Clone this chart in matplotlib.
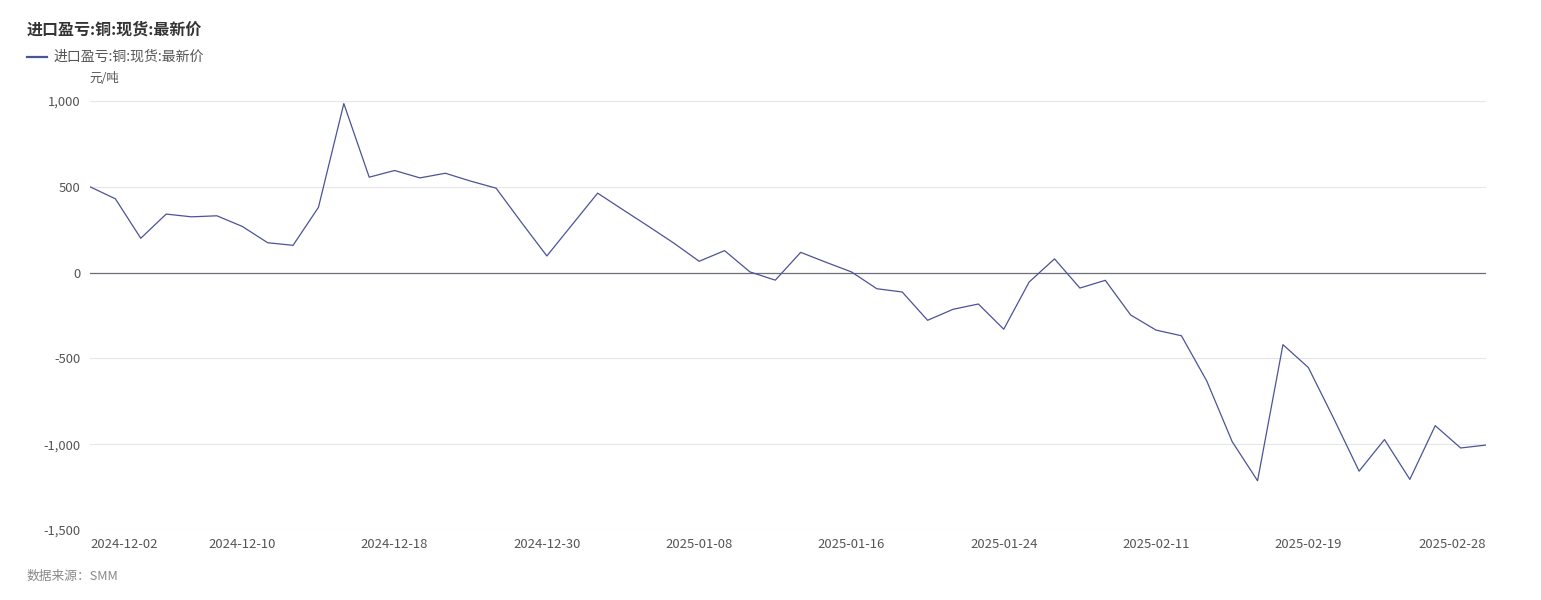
import matplotlib
matplotlib.use("Agg")
import matplotlib.pyplot as plt

plt.rcParams['font.family'] = ['Noto Sans CJK SC', 'DejaVu Sans']
plt.rcParams['axes.unicode_minus'] = False

# ---- data ----
dates = [
    "2024-12-02", "2024-12-03", "2024-12-04", "2024-12-05", "2024-12-06",
    "2024-12-09", "2024-12-10", "2024-12-11", "2024-12-12", "2024-12-13",
    "2024-12-16", "2024-12-17", "2024-12-18", "2024-12-19", "2024-12-20",
    "2024-12-23", "2024-12-24", "2024-12-26", "2024-12-30", "2024-12-31",
    "2025-01-02", "2025-01-03", "2025-01-06", "2025-01-07", "2025-01-08",
    "2025-01-09", "2025-01-10", "2025-01-13", "2025-01-14", "2025-01-15",
    "2025-01-16", "2025-01-17", "2025-01-20", "2025-01-21", "2025-01-22",
    "2025-01-23", "2025-01-24", "2025-01-27", "2025-02-05", "2025-02-06",
    "2025-02-07", "2025-02-10", "2025-02-11", "2025-02-12", "2025-02-13",
    "2025-02-14", "2025-02-17", "2025-02-18", "2025-02-19", "2025-02-20",
    "2025-02-21", "2025-02-24", "2025-02-25", "2025-02-26", "2025-02-27",
    "2025-02-28",
]
values = [
    500, 430, 200, 341, 325, 331, 269, 174, 159, 380,
    985, 556, 595, 552, 579, 533, 492, 292, 97, 280,
    463, 366, 270, 172, 66, 128, 4, -44, 118, 60,
    4, -94, -113, -278, -214, -183, -330, -55, 80, -90,
    -45, -247, -335, -368, -632, -985, -1213, -420, -553, -850,
    -1157, -973, -1205, -892, -1022, -1005,
]
yticks = [-1500, -1000, -500, 0, 500, 1000]
tick_idx = [0, 6, 12, 18, 24, 30, 36, 42, 48, 55]

title = "进口盈亏:铜:现货:最新价"
series_name = "进口盈亏:铜:现货:最新价"
unit = "元/吨"
source = "数据来源：SMM"

# ---- figure ----
W, H = 1541, 600
fig = plt.figure(figsize=(W / 100, H / 100), dpi=100)
L, R, T, B = 90, 1486, 101, 530
ax = fig.add_axes([L / W, 1 - B / H, (R - L) / W, (B - T) / H])

line_color = "#4b5496"
x = list(range(len(values)))
ax.plot(x, values, color=line_color, lw=0.9, zorder=3)
ax.axhline(0, color="#6e7079", lw=0.9, zorder=2)

ax.set_xlim(0, len(values) - 1)
ax.set_ylim(-1500, 1000)
ax.set_yticks(yticks)
ax.set_yticklabels([f"{v:,}" for v in yticks])
ax.grid(axis="y", color="#e6e6e6", lw=0.8)
ax.set_axisbelow(True)
for s in ax.spines.values():
    s.set_visible(False)

ax.set_xticks(tick_idx)
ax.set_xticklabels([dates[i] for i in tick_idx])
xl = ax.get_xticklabels()
xl[0].set_horizontalalignment("left")
xl[-1].set_horizontalalignment("right")
ax.tick_params(axis="both", length=0, labelsize=9.4, colors="#555555")
ax.tick_params(axis="y", pad=7)
ax.tick_params(axis="x", pad=5.5)

def px(xp, yp):
    return xp / W, 1 - yp / H

fig.text(*px(27, 30), title, fontsize=11.5, fontweight="bold", color="#333333",
         ha="left", va="center")
fig.add_artist(plt.Line2D([27 / W, 47 / W], [1 - 57 / H, 1 - 57 / H],
                          color=line_color, lw=1.6))
fig.text(*px(53, 57), series_name, fontsize=10, color="#555555",
         ha="left", va="center")
fig.text(*px(89, 79), unit, fontsize=9, color="#555555", ha="left", va="center")
fig.text(*px(27, 576), source, fontsize=9.2, color="#888888", style="italic",
         ha="left", va="center")

fig.savefig("out.png", dpi=100, facecolor="white")
